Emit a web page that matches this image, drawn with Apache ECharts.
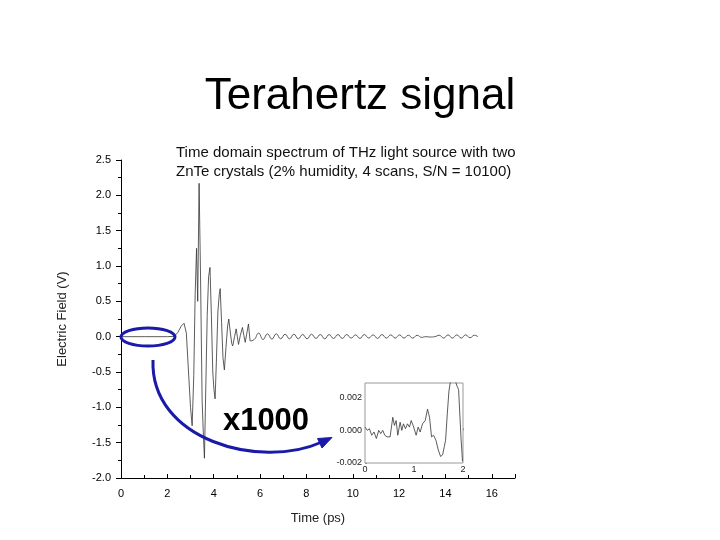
<!DOCTYPE html>
<html>
<head>
<meta charset="utf-8">
<script src="https://cdn.jsdelivr.net/npm/echarts@6/dist/echarts.min.js"></script>
<style>html,body{margin:0;padding:0;background:#fff}#c{width:720px;height:540px}</style>
</head>
<body>
<div id="c"></div>
<script>
// Main trace: pulse region (time in ps, field in V)
const pulseTime = [0, 1.0, 2.0, 2.3, 2.45, 2.6, 2.72, 2.82, 2.93, 3.0, 3.07, 3.14, 3.2, 3.26, 3.31, 3.37, 3.43, 3.5, 3.55, 3.6, 3.66, 3.72, 3.78, 3.84, 3.9, 3.96, 4.01, 4.06, 4.12, 4.18, 4.24, 4.28, 4.34, 4.4, 4.46, 4.53, 4.6, 4.65, 4.72, 4.78, 4.82, 4.9, 4.97, 5.02, 5.07, 5.15, 5.24, 5.3, 5.36, 5.43, 5.5, 5.57];
const pulseField = [0, 0, 0, 0.005, 0.06, 0.15, 0.19, 0.05, -0.6, -1.0, -1.26, -0.55, 0.6, 1.25, 0.5, 2.17, 0.9, -0.9, -1.35, -1.72, -0.7, 0.3, 0.85, 0.98, 0.3, -0.5, -0.75, -0.88, -0.3, 0.35, 0.6, 0.68, 0.2, -0.3, -0.47, -0.15, 0.15, 0.25, 0.05, -0.1, -0.13, 0.0, 0.11, 0.0, -0.11, 0.02, 0.13, 0.02, -0.08, 0.05, 0.18, -0.06];
// Main trace: ringing tail
const tailTime = [5.57, 5.75, 5.94, 6.13, 6.32, 6.51, 6.70, 6.89, 7.08, 7.27, 7.46, 7.65, 7.84, 8.03, 8.22, 8.41, 8.60, 8.79, 8.98, 9.17, 9.36, 9.55, 9.74, 9.93, 10.12, 10.31, 10.50, 10.69, 10.88, 11.07, 11.26, 11.45, 11.64, 11.83, 12.02, 12.21, 12.40, 12.59, 12.78, 12.97, 13.16, 13.35, 13.54, 13.73, 13.92, 14.11, 14.30, 14.49, 14.68, 14.87, 15.06, 15.25, 15.40];
const tailField = [-0.06, -0.04, 0.05, -0.04, 0.04, -0.035, 0.04, -0.03, 0.035, -0.03, 0.035, -0.03, 0.03, -0.03, 0.035, -0.025, 0.03, -0.03, 0.03, -0.025, 0.03, -0.025, 0.03, -0.02, 0.025, -0.025, 0.03, -0.02, 0.025, -0.025, 0.03, -0.02, 0.025, -0.02, 0.025, -0.02, 0.02, -0.02, 0.02, -0.01, 0.0, -0.005, 0.0, 0.02, -0.02, 0.025, -0.02, 0.025, -0.02, 0.025, -0.015, 0.02, 0.0];
// Inset (x1000): first 2 ps
const insetTime = [0.00, 0.048, 0.089, 0.137, 0.184, 0.232, 0.280, 0.321, 0.362, 0.403, 0.451, 0.512, 0.567, 0.601, 0.635, 0.669, 0.717, 0.751, 0.785, 0.826, 0.867, 0.908, 0.942, 0.983, 1.010, 1.044, 1.085, 1.126, 1.174, 1.229, 1.276, 1.317, 1.358, 1.399, 1.447, 1.495, 1.543, 1.584, 1.618, 1.645, 1.679, 1.713, 1.754, 1.80, 1.88, 1.91, 1.96, 1.99];
const insetField = [0.0002, 0.0000, 0.0001, -0.0003, -0.0001, -0.0005, 0.0000, -0.0002, 0.0000, -0.0003, -0.0004, -0.0004, 0.0008, 0.0003, 0.0006, -0.0003, 0.0005, 0.0000, 0.0004, 0.0001, 0.0004, 0.0002, 0.0006, 0.0003, 0.0004, -0.0003, 0.0002, -0.0001, 0.0004, 0.0006, 0.0013, 0.0008, -0.0004, -0.0003, -0.0006, -0.0012, -0.0016, -0.0015, -0.0010, -0.0006, 0.0010, 0.0024, 0.0032, 0.0034, 0.0027, 0.0025, -0.0005, -0.0019];

const mainTitle = 'Terahertz signal';
const noteLine1 = 'Time domain spectrum of THz light source with two';
const noteLine2 = 'ZnTe crystals (2% humidity, 4 scans, S/N = 10100)';
const xName = 'Time (ps)';
const yName = 'Electric Field (V)';
const zoomLabel = 'x1000';

const FONT = '"Liberation Sans", Arial, sans-serif';
const BLUE = '#1a1aaa';

const zip = (a, b) => a.map((v, i) => [v, b[i]]);

const chart = echarts.init(document.getElementById('c'), null, {renderer: 'canvas'});
chart.setOption({
  animation: false,
  backgroundColor: '#fff',
  textStyle: {fontFamily: FONT},
  grid: [
    {left: 121, top: 160, right: 205, bottom: 62},
    {left: 365, top: 383, width: 98, height: 80, show: true, borderColor: '#999', borderWidth: 1, backgroundColor: '#fff', z: 5}
  ],
  xAxis: [
    {
      type: 'value', gridIndex: 0, min: 0, max: 17, interval: 2,
      name: xName, nameLocation: 'middle', nameGap: 34,
      nameTextStyle: {fontSize: 13, color: '#222', fontFamily: FONT},
      axisLine: {show: true, onZero: false, lineStyle: {color: '#000', width: 1}},
      axisTick: {show: true, inside: true, length: 4, lineStyle: {color: '#000'}},
      minorTick: {show: true, splitNumber: 2, length: 3, lineStyle: {color: '#000'}},
      axisLabel: {fontSize: 11, color: '#000', margin: 10, fontFamily: FONT, showMaxLabel: false},
      splitLine: {show: false}
    },
    {
      type: 'value', gridIndex: 1, min: 0, max: 2, interval: 1,
      axisLine: {show: false},
      axisTick: {show: true, inside: true, length: 2, lineStyle: {color: '#888'}},
      axisLabel: {fontSize: 9, color: '#222', margin: 2, fontFamily: FONT},
      splitLine: {show: false}
    }
  ],
  yAxis: [
    {
      type: 'value', gridIndex: 0, min: -2, max: 2.5, interval: 0.5,
      name: yName, nameLocation: 'middle', nameGap: 52,
      nameTextStyle: {fontSize: 13, color: '#222', fontFamily: FONT},
      axisLine: {show: true, onZero: false, lineStyle: {color: '#000', width: 1}},
      axisTick: {show: true, inside: false, length: 5, lineStyle: {color: '#000'}},
      minorTick: {show: true, splitNumber: 2, length: 3, lineStyle: {color: '#000'}},
      axisLabel: {fontSize: 11, color: '#000', margin: 10, fontFamily: FONT, formatter: v => v.toFixed(1)},
      splitLine: {show: false}
    },
    {
      type: 'value', gridIndex: 1, min: -0.002, max: 0.0029, interval: 0.002,
      axisLine: {show: false},
      axisTick: {show: true, inside: true, length: 2, lineStyle: {color: '#888'}},
      axisLabel: {fontSize: 9, color: '#222', margin: 3, fontFamily: FONT, showMaxLabel: false, formatter: v => v.toFixed(3)},
      splitLine: {show: false}
    }
  ],
  series: [
    {type: 'line', xAxisIndex: 0, yAxisIndex: 0, data: zip(pulseTime, pulseField), showSymbol: false, lineStyle: {color: '#333', width: 0.8}, z: 2},
    {type: 'line', xAxisIndex: 0, yAxisIndex: 0, data: zip(tailTime, tailField), smooth: 0.5, showSymbol: false, lineStyle: {color: '#333', width: 0.8}, z: 2},
    {type: 'line', xAxisIndex: 1, yAxisIndex: 1, data: zip(insetTime, insetField), showSymbol: false, clip: true, lineStyle: {color: '#333', width: 0.8}, z: 6}
  ],
  graphic: [
    {type: 'text', z: 10, style: {text: mainTitle, x: 360, y: 97, font: '44px ' + FONT, fill: '#000', textAlign: 'center', textVerticalAlign: 'middle'}},
    {type: 'text', z: 10, style: {text: noteLine1, x: 176, y: 153, font: '15px ' + FONT, fill: '#111', textAlign: 'left', textVerticalAlign: 'middle'}},
    {type: 'text', z: 10, style: {text: noteLine2, x: 176, y: 172, font: '15px ' + FONT, fill: '#111', textAlign: 'left', textVerticalAlign: 'middle'}},
    {type: 'text', z: 10, style: {text: zoomLabel, x: 266, y: 421, font: 'bold 31px ' + FONT, fill: '#000', textAlign: 'center', textVerticalAlign: 'middle'}},
    {type: 'ellipse', z: 10, shape: {cx: 148, cy: 337, rx: 27, ry: 9}, style: {fill: 'none', stroke: BLUE, lineWidth: 3}},
    {type: 'bezierCurve', z: 10, shape: {x1: 153, y1: 360, cpx1: 150, cpy1: 440, cpx2: 260, cpy2: 470, x2: 322, y2: 442}, style: {fill: 'none', stroke: BLUE, lineWidth: 3}},
    {type: 'polygon', z: 10, shape: {points: [[332, 437.5], [317.5, 438.5], [322, 448]]}, style: {fill: BLUE, stroke: BLUE, lineWidth: 1}}
  ]
});
</script>
</body>
</html>
